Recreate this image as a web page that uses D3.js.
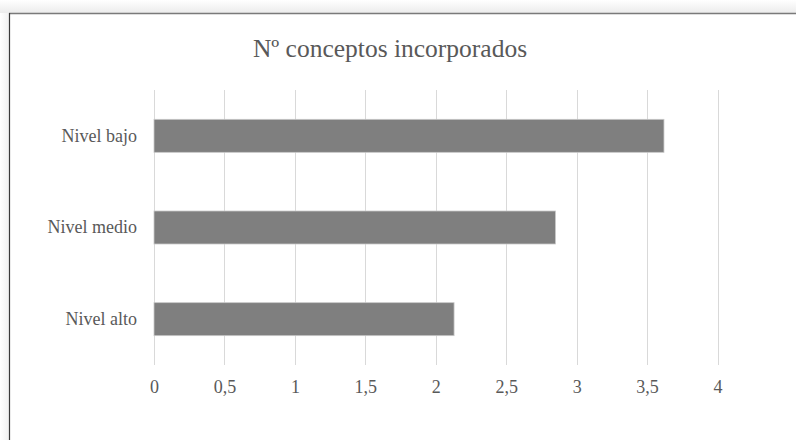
<!DOCTYPE html>
<html>
<head>
<meta charset="utf-8">
<script src="https://cdn.jsdelivr.net/npm/d3@7/dist/d3.min.js"></script>
<style>
  html, body { margin: 0; padding: 0; background: #fff; }
  svg { display: block; }
  text { font-family: "Liberation Serif", "DejaVu Serif", serif; fill: #595959; }
</style>
</head>
<body>
<svg id="chart" width="796" height="440"></svg>
<script>
const title = "Nº conceptos incorporados";
const categories = ["Nivel bajo", "Nivel medio", "Nivel alto"];
const values = [3.62, 2.85, 2.13];
const ticks = [0, 0.5, 1, 1.5, 2, 2.5, 3, 3.5, 4];
const tickLabels = ["0", "0,5", "1", "1,5", "2", "2,5", "3", "3,5", "4"];

const W = 796, H = 440;
const svg = d3.select("#chart");

// frame shading + border
const defs = svg.append("defs");
const g1 = defs.append("linearGradient").attr("id", "shadeTop").attr("x1", 0).attr("y1", 0).attr("x2", 0).attr("y2", 1);
g1.append("stop").attr("offset", "0%").attr("stop-color", "#ffffff");
g1.append("stop").attr("offset", "100%").attr("stop-color", "#ececec");
const g2 = defs.append("linearGradient").attr("id", "shadeLeft").attr("x1", 0).attr("y1", 0).attr("x2", 1).attr("y2", 0);
g2.append("stop").attr("offset", "0%").attr("stop-color", "#ffffff");
g2.append("stop").attr("offset", "100%").attr("stop-color", "#f0f0f0");
svg.append("rect").attr("x", 0).attr("y", 0).attr("width", W).attr("height", 13).attr("fill", "url(#shadeTop)");
svg.append("rect").attr("x", 0).attr("y", 13).attr("width", 9).attr("height", H - 13).attr("fill", "url(#shadeLeft)");
svg.append("line").attr("x1", 9).attr("x2", W).attr("y1", 13.5).attr("y2", 13.5)
  .attr("stroke", "#7a7a7a").attr("stroke-width", 1.6);
svg.append("line").attr("x1", 9.5).attr("x2", 9.5).attr("y1", 13).attr("y2", H)
  .attr("stroke", "#3a3a3a").attr("stroke-width", 1.2);

const margin = { left: 154, right: 796 - 717.5, top: 90, bottom: 440 - 365 };
const x = d3.scaleLinear().domain([0, 4]).range([margin.left, 717.5]);
const y = d3.scaleBand().domain(categories).range([margin.top, 365]).paddingInner(0.64).paddingOuter(0.32);

// title
svg.append("text").attr("x", 390).attr("y", 57).attr("text-anchor", "middle")
  .style("font-size", "25.5px").text(title);

// gridlines
svg.append("g").selectAll("line").data(ticks).join("line")
  .attr("x1", d => Math.round(x(d)) + 0.5).attr("x2", d => Math.round(x(d)) + 0.5)
  .attr("y1", margin.top).attr("y2", 365)
  .attr("stroke", "#d9d9d9").attr("stroke-width", 1);

// bars
svg.append("g").selectAll("rect").data(categories).join("rect")
  .attr("x", x(0))
  .attr("y", d => y(d))
  .attr("width", (d, i) => x(values[i]) - x(0))
  .attr("height", y.bandwidth())
  .attr("fill", "#7f7f7f")
  .attr("stroke", "#c8c8c8").attr("stroke-width", 0.8);

// x axis labels
const xAxis = d3.axisBottom(x).tickValues(ticks).tickSize(0).tickPadding(0)
  .tickFormat((d, i) => tickLabels[i]);
const gx = svg.append("g").attr("transform", "translate(0,380.5)").call(xAxis);
gx.select(".domain").remove();
gx.selectAll("text").style("font-size", "18px").style("font-family", "Liberation Serif").attr("fill", "#595959").attr("dy", "0.71em");

// y axis labels
const yAxis = d3.axisLeft(y).tickSize(0).tickPadding(17);
const gy = svg.append("g").attr("transform", `translate(${x(0)},0)`).call(yAxis);
gy.select(".domain").remove();
gy.selectAll("text").style("font-size", "18px").style("font-family", "Liberation Serif").attr("fill", "#595959");
</script>
</body>
</html>
